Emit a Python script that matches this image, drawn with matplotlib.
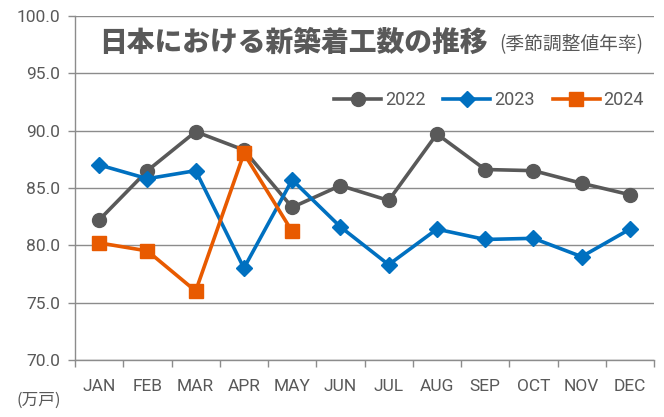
import matplotlib
matplotlib.use("Agg")
import matplotlib.pyplot as plt

plt.rcParams['font.family'] = ['Noto Sans CJK JP', 'DejaVu Sans']

months = ["JAN", "FEB", "MAR", "APR", "MAY", "JUN",
          "JUL", "AUG", "SEP", "OCT", "NOV", "DEC"]
y2022 = [82.2, 86.5, 89.9, 88.3, 83.3, 85.2, 83.9, 89.7, 86.6, 86.5, 85.4, 84.4]
y2023 = [87.0, 85.8, 86.5, 78.0, 85.7, 81.6, 78.3, 81.4, 80.5, 80.6, 79.0, 81.4]
y2024 = [80.2, 79.5, 76.0, 88.0, 81.2]
yticks = [70.0, 75.0, 80.0, 85.0, 90.0, 95.0, 100.0]

GRAY = "#595959"
BLUE = "#0070C0"
ORANGE = "#E85A00"
AXIS = "#8C8C8C"
LATIN = ["Roboto", "Noto Sans CJK JP"]

fig = plt.figure(figsize=(6.64, 4.17), dpi=100)
ax = fig.add_axes([0.113, 0.137, 0.872, 0.825])

x = list(range(len(months)))
ax.plot(x, y2022, color=GRAY, lw=2.6, marker="o", ms=10, label="2022", zorder=3)
ax.plot(x, y2023, color=BLUE, lw=2.6, marker="D", ms=8, label="2023", zorder=4)
ax.plot(x[:len(y2024)], y2024, color=ORANGE, lw=2.6, marker="s", ms=10,
        label="2024", zorder=5)

ax.set_xlim(-0.5, 11.5)
ax.set_ylim(70, 100)
ax.set_yticks(yticks)
ax.set_yticklabels([f"{v:.1f}" for v in yticks], family=LATIN)
ax.set_xticks(x)
ax.set_xticklabels(months, family=LATIN)
ax.set_xticks([i - 0.5 for i in range(13)], minor=True)
ax.tick_params(axis="x", which="major", length=0, pad=14, labelsize=12.5, labelcolor=GRAY)
ax.tick_params(axis="x", which="minor", length=5, color=AXIS, width=1)
ax.tick_params(axis="y", length=5, color=AXIS, width=1, labelsize=12.5, labelcolor=GRAY, pad=6)

ax.grid(axis="y", color=AXIS, lw=1, zorder=0)
for s in ["top", "right"]:
    ax.spines[s].set_visible(False)
for s in ["left", "bottom"]:
    ax.spines[s].set_color(AXIS)
    ax.spines[s].set_linewidth(1)

fig.text(0.150, 0.897, "日本における新築着工数の推移", fontsize=20, fontweight=900,
         color=GRAY, va="center", ha="left")
fig.text(0.752, 0.893, "(季節調整値年率)", fontsize=13.5, color=GRAY, va="center", ha="left")
fig.text(0.025, 0.04, "(万戸)", fontsize=12, color=GRAY, va="center", ha="left")

leg = ax.legend(loc="center", bbox_to_anchor=(0.715, 0.755), ncol=3, frameon=False,
                fontsize=13, handlelength=2.6, columnspacing=1.0, handletextpad=0.2,
                labelcolor=GRAY, prop={"family": LATIN, "size": 13})

fig.savefig("out.png", dpi=100)
